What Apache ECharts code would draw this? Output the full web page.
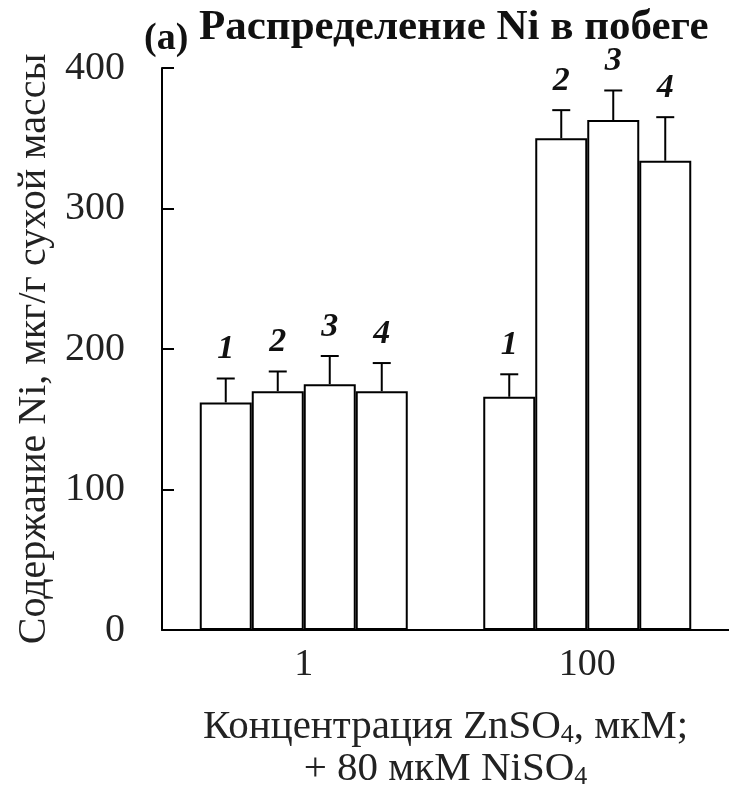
<!DOCTYPE html>
<html>
<head>
<meta charset="utf-8">
<title>Распределение Ni в побеге</title>
<script src="https://cdn.jsdelivr.net/npm/echarts@6/dist/echarts.min.js"></script>
<style>
	html, body { margin: 0; padding: 0; background: #fff; }
	#main { width: 729px; height: 795px; }
</style>
</head>
<body>
<div id="main"></div>
<script>
// ZnSO4 concentrations (мкМ)
var categories = ['1', '100'];
// treatment numbers shown above the bars
var treatments = ['1', '2', '3', '4'];
// Ni content, one array per treatment: [Zn 1, Zn 100]
var means = [
	[162, 166],
	[170, 350],
	[175, 363],
	[170, 334]
];
var errors = [
	[17, 16],
	[14, 20],
	[20, 21],
	[20, 31]
];
var yMin = 0, yMax = 400, yStep = 100;

var BAR_W = 52;
var SERIF = '"Liberation Serif", "Times New Roman", serif';

var myChart = echarts.init(document.getElementById('main'));

var series = [];
//bars
treatments.forEach(function(t, k) {
	series.push({
		name: t,
		type: 'bar',
		data: means[k],
		barWidth: BAR_W,
		barGap: '0%',
		itemStyle: {
			color: '#fff',
			borderColor: '#000',
			borderWidth: 2
		},
		z: 2
	});
});
//error bars + numbers
treatments.forEach(function(t, k) {
	series.push({
		name: 'err' + t,
		type: 'custom',
		data: categories.map(function(c, i) {
			return [i, means[k][i], errors[k][i]];
		}),
		z: 3,
		renderItem: function(params, api) {
			var base = api.coord([api.value(0), api.value(1)]);
			var top = api.coord([api.value(0), api.value(1) + api.value(2)]);
			var x = base[0] + (k - 1.5) * BAR_W;
			return {
				type: 'group',
				children: [{
					type: 'line',
					shape: { x1: x, y1: base[1], x2: x, y2: top[1] },
					style: { stroke: '#000', lineWidth: 2 }
				}, {
					type: 'line',
					shape: { x1: x - 9, y1: top[1], x2: x + 9, y2: top[1] },
					style: { stroke: '#000', lineWidth: 2 }
				}, {
					type: 'text',
					x: x,
					y: top[1] - 12,
					style: {
						text: t,
						font: 'italic bold 34px ' + SERIF,
						fill: '#111',
						align: 'center',
						verticalAlign: 'bottom'
					}
				}]
			};
		}
	});
});

var nameRich = {
	n: { fontSize: 41, fontFamily: SERIF, color: '#222', lineHeight: 42 },
	s: { fontSize: 26, fontFamily: SERIF, color: '#222', lineHeight: 22, verticalAlign: 'bottom' }
};

var option = {
	animation: false,
	title: [{
		text: '(a)',
		left: 144,
		top: 20,
		padding: 0,
		textStyle: { fontSize: 38, fontWeight: 'bold', fontFamily: SERIF, color: '#111' }
	}, {
		text: 'Распределение Ni в побеге',
		left: 199,
		top: 6,
		padding: 0,
		textStyle: { fontSize: 43, fontWeight: 'bold', fontFamily: SERIF, color: '#111' }
	}],
	grid: {
		left: 162,
		right: -4,
		top: 68,
		bottom: 163
	},
	xAxis: {
		type: 'category',
		data: categories,
		axisLine: { lineStyle: { color: '#000', width: 2 } },
		axisTick: { show: false },
		axisLabel: { fontSize: 38, fontFamily: SERIF, color: '#222', margin: 16 },
		name: '{n|Концентрация ZnSO}{s|4}{n|, мкМ;}\n{n|+ 80 мкМ NiSO}{s|4}',
		nameLocation: 'middle',
		nameGap: 76,
		nameTextStyle: { rich: nameRich, align: 'center' }
	},
	yAxis: {
		type: 'value',
		min: yMin,
		max: yMax,
		interval: yStep,
		splitLine: { show: false },
		axisLine: { show: true, lineStyle: { color: '#000', width: 2 } },
		axisTick: { show: true, inside: true, length: 12, lineStyle: { color: '#000', width: 2 } },
		axisLabel: { fontSize: 40, fontFamily: SERIF, color: '#222', margin: 37 },
		name: 'Содержание Ni, мкг/г сухой массы',
		nameLocation: 'middle',
		nameGap: 94,
		nameTextStyle: { fontSize: 40, fontFamily: SERIF, color: '#222' }
	},
	series: series
};
myChart.setOption(option);
</script>
</body>
</html>
